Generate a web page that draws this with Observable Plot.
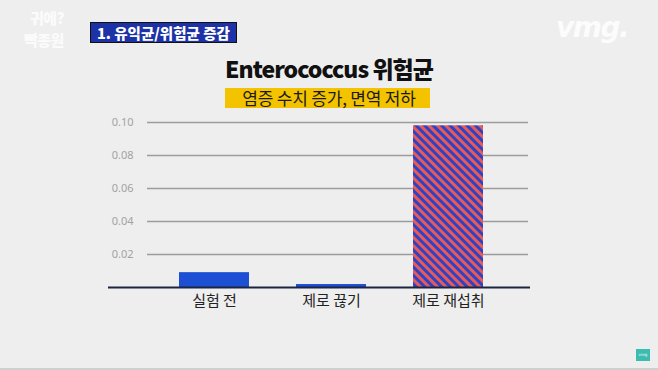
<!DOCTYPE html>
<html>
<head>
<meta charset="utf-8">
<script src="https://cdn.jsdelivr.net/npm/d3@7"></script>
<script src="https://cdn.jsdelivr.net/npm/@observablehq/plot@0.6"></script>
<style>
  html, body { margin: 0; padding: 0; background: #eeeeee; }
  #wrap { position: relative; width: 658px; height: 370px; overflow: hidden; background: #eeeeee; font-family: "Noto Sans CJK KR", "Noto Sans", sans-serif; }
  .abs { position: absolute; white-space: nowrap; }
  #logo1, #logo2 { color: rgba(255,255,255,0.8); font-weight: 900; font-size: 15px; line-height: 15px; letter-spacing: -0.5px; }
  #logo1 { left: 30px; top: 10px; }
  #logo2 { left: 24px; top: 32px; }
  #section { left: 90px; top: 22px; height: 19px; padding: 0 6px; background: #1c32a6; border: 1.5px solid #111; color: #fff; font-weight: 900; font-size: 14.5px; line-height: 19px; }
  #vmg { left: 556px; top: 11px; color: rgba(255,255,255,0.85); font-family: "DejaVu Sans", sans-serif; font-weight: bold; font-style: italic; font-size: 28px; letter-spacing: -1.5px; }
  #title { left: 0; width: 658px; text-align: center; top: 51px; font-weight: 900; font-size: 23px; color: #111; letter-spacing: -1px; }
  #subbox { left: 225px; top: 88px; width: 205px; height: 20px; background: #f3c300; }
  #subtitle { left: 0; width: 658px; text-align: center; top: 85px; font-size: 17px; color: #1a1a1a; letter-spacing: -0.2px; }
  #icon { left: 636px; top: 349px; width: 14px; height: 12px; background: #3cbcae; color: #fff; font-size: 4px; line-height: 12px; text-align: center; font-family: "DejaVu Sans", sans-serif; }
  #bottom { left: 0; top: 368px; width: 658px; height: 2px; background: #cfcfcf; }
  svg { position: absolute; left: 0; top: 0; }
</style>
</head>
<body>
<div id="wrap">
  <div id="chart"></div>
  <div class="abs" id="logo1">귀에?</div>
  <div class="abs" id="logo2">빡종원</div>
  <div class="abs" id="section">1. 유익균/위험균 증감</div>
  <div class="abs" id="vmg">vmg.</div>
  <div class="abs" id="title">Enterococcus 위험균</div>
  <div class="abs" id="subbox"></div>
  <div class="abs" id="subtitle">염증 수치 증가, 면역 저하</div>
  <div class="abs" id="icon">vmg</div>
  <div class="abs" id="bottom"></div>
</div>
<script>
const categories = ["실험 전", "제로 끊기", "제로 재섭취"];
const values = [0.009, 0.0018, 0.098];
const tickValues = [0.02, 0.04, 0.06, 0.08, 0.10];
const tickLabels = ["0.02", "0.04", "0.06", "0.08", "0.10"];

const data = categories.map((c, i) => ({category: c, value: values[i]}));
const ticks = tickValues.map((v, i) => ({v, label: tickLabels[i]}));

const chart = Plot.plot({
  width: 658,
  height: 370,
  marginLeft: 108,
  marginRight: 128,
  marginTop: 122,
  marginBottom: 83,
  style: {background: "transparent", fontFamily: "Noto Sans CJK KR, Noto Sans, sans-serif"},
  x: {domain: categories, paddingInner: 0.4, paddingOuter: 0.49, align: 0.6, label: null},
  y: {domain: [0, 0.1], axis: null},
  marks: [
    Plot.ruleY(ticks, {y: "v", stroke: "#9c9c9c", strokeWidth: 1.4, insetLeft: 39, insetRight: 2}),
    Plot.text(ticks, {y: "v", text: "label", frameAnchor: "left", dx: 25, textAnchor: "end", fill: "#a3a3a3", fontSize: 11, fontFamily: "Noto Sans, sans-serif"}),
    Plot.barY(data, {filter: d => d.category !== "제로 재섭취", x: "category", y: "value", fill: "#1d4fd4"}),
    Plot.barY(data, {filter: d => d.category === "제로 재섭취", x: "category", y: "value", fill: "url(#stripes)"}),
    Plot.ruleY([0], {stroke: "#1b2440", strokeWidth: 2}),
    Plot.axisX({tickSize: 0, tickPadding: 8, fontSize: 15, fill: "#222", label: null})
  ]
});

const svg = d3.select(chart);
const defs = svg.insert("defs", ":first-child");
const pat = defs.append("pattern")
  .attr("id", "stripes")
  .attr("patternUnits", "userSpaceOnUse")
  .attr("width", 6)
  .attr("height", 6)
  .attr("patternTransform", "rotate(-45)");
pat.append("rect").attr("width", 6).attr("height", 6).attr("fill", "#e65a5a");
pat.append("rect").attr("width", 3).attr("height", 6).attr("fill", "#2f42c4");

document.getElementById("chart").appendChild(chart);
</script>
</body>
</html>
